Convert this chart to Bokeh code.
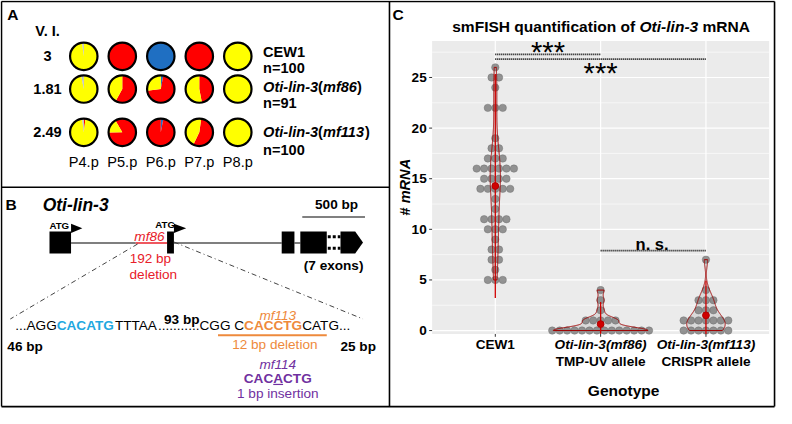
import numpy as np
from bokeh.plotting import figure
from bokeh.models import Range1d
from bokeh.core.properties import value
from bokeh.embed import file_html
from bokeh.resources import INLINE

# ---------------- data ----------------
# Panel A : vulval induction (V. I.) and VPC fate fractions
strains = ["CEW1", "Oti-lin-3(mf86)", "Oti-lin-3(mf113)"]
strain_n = ["n=100", "n=91", "n=100"]
vulval_induction = ["3", "1.81", "2.49"]
vpc_cells = ["P4.p", "P5.p", "P6.p", "P7.p", "P8.p"]
fate_colors = ["#1f6fc2", "#ff0000", "#ffff00", "#bfbfbf"]   # 1°, 2°, 3°, fused
# fraction of animals per fate [1°, 2°, 3°, fused] for each VPC
fates_cew1 = [[0, 0, 0.98, 0.02], [0, 1, 0, 0], [1, 0, 0, 0], [0, 1, 0, 0], [0, 0, 1, 0]]
fates_mf86 = [[0, 0, 0.97, 0.03], [0, 0.58, 0.42, 0], [0.03, 0.70, 0.27, 0], [0, 0.47, 0.53, 0], [0, 0, 1, 0]]
fates_mf113 = [[0, 0.02, 0.96, 0.02], [0, 0.83, 0.17, 0], [0.03, 0.97, 0, 0], [0, 0.55, 0.45, 0], [0, 0, 1, 0]]

# Panel C : smFISH mRNA counts per cell (value -> number of cells)
genotypes = ["CEW1", "Oti-lin-3(mf86)", "Oti-lin-3(mf113)"]
genotype_sub = ["", "TMP-UV allele", "CRISPR allele"]
cew1_mrna = [5, 6, 7, 8, 9, 10, 11, 12, 13, 14, 15, 16, 17, 18, 19, 22, 24, 25, 26]
cew1_cells = [3, 1, 2, 2, 1, 3, 4, 1, 1, 5, 4, 6, 3, 2, 1, 3, 1, 2, 1]
mf86_mrna = [0, 1, 2, 3, 4]
mf86_cells = [14, 5, 1, 1, 1]
mf113_mrna = [0, 1, 2, 3, 4, 7]
mf113_cells = [7, 7, 3, 3, 1, 1]
mrna_ticks = [0, 5, 10, 15, 20, 25]
mrna_minor = [2.5, 7.5, 12.5, 17.5, 22.5, 27.5]

# ---------------- canvas ----------------
W, H = 776, 408
RW, RH = 792.0, 424.0
SX, SY = W / RW, H / RH
FS = (SX + SY) / 2
FONT = "Liberation Sans"

p = figure(width=W, height=H, x_range=Range1d(0, RW), y_range=Range1d(RH, 0),
           x_axis_type=None, y_axis_type=None, output_backend="svg",
           toolbar_location=None, min_border=0)
p.outline_line_color = None
p.background_fill_color = "white"
p.border_fill_color = "white"

# panel C data coordinate system
C_X0, C_DX = 505.0, 107.5
C_Y0, C_DY = 343.0, 10.52
p.extra_x_ranges = {"cx": Range1d(1 - C_X0 / C_DX, 1 + (RW - C_X0) / C_DX)}
p.extra_y_ranges = {"cy": Range1d((C_Y0 - RH) / C_DY, C_Y0 / C_DY)}
CK = dict(x_range_name="cx", y_range_name="cy")


def cxv(px):
    return 1 + (px - C_X0) / C_DX


def cyv(py):
    return (C_Y0 - py) / C_DY


# ---------------- text metrics (Arial / Liberation Sans) ----------------
UP_R = [667, 667, 722, 722, 667, 611, 778, 722, 278, 500, 667, 556, 833, 722, 778, 667, 778, 722, 667, 611, 722, 667, 944, 667, 667, 611]
LO_R = [556, 556, 500, 556, 556, 278, 556, 556, 222, 222, 500, 222, 833, 556, 556, 556, 556, 333, 500, 278, 556, 500, 722, 500, 500, 500]
UP_B = [722, 722, 722, 722, 667, 611, 778, 722, 278, 556, 722, 611, 833, 722, 778, 667, 778, 722, 667, 611, 722, 667, 944, 667, 667, 611]
LO_B = [556, 611, 556, 611, 556, 333, 611, 611, 278, 278, 556, 278, 889, 611, 611, 611, 611, 389, 556, 333, 611, 556, 778, 556, 556, 500]


def _table(up, lo):
    t = {chr(65 + i): w for i, w in enumerate(up)}
    t.update({chr(97 + i): w for i, w in enumerate(lo)})
    t.update({d: 556 for d in "0123456789"})
    t.update({" ": 278, ".": 278, ",": 278, "-": 333, "(": 333, ")": 333, "*": 389, "#": 556, "=": 584})
    return t


TAB_R, TAB_B = _table(UP_R, LO_R), _table(UP_B, LO_B)


def tw(s, style, size):
    tab = TAB_B if "bold" in style else TAB_R
    return sum(tab.get(ch, 556) for ch in s) / 1000.0 * size * FS / SX


def txt(x, y, s, size, style="normal", color="black", align="left", angle=0.0, c=False):
    kw = CK if c else {}
    p.text(x=[x], y=[y], text=[s], angle=angle, text_font=value(FONT),
           text_font_size=f"{size * FS:.2f}px", text_font_style=style,
           text_color=color, text_align=align, text_baseline="middle", **kw)


def rich(x, y, parts, size, align="left", c=False):
    unit = C_DX if c else 1.0
    widths = [tw(s, st, size) / unit for s, st, col in parts]
    total = sum(widths)
    x0 = x - total / 2 if align == "center" else (x - total if align == "right" else x)
    for (s, st, col), w in zip(parts, widths):
        lead = len(s) - len(s.lstrip(" "))
        if s.strip():
            txt(x0 + tw(" " * lead, st, size) / unit, y, s.strip(), size, st, col, "left", c=c)
        x0 += w
    return total


# ---------------- borders ----------------
p.segment(x0=[1, 1, 1, 790, 397, 1], y0=[1, 422, 1, 1, 1, 194],
          x1=[790, 790, 1, 790, 397, 397], y1=[1, 422, 422, 422, 422, 194],
          line_color="black", line_width=1.6)

# ---------------- panel A ----------------
txt(7, 15, "A", 16, "bold")
txt(48, 32, "V. I.", 15, "bold", align="center")
pie_x = [85 + 39.3 * i for i in range(len(vpc_cells))]
pie_y = [58, 92, 137]
label_y = [(54, 70), (90, 107), (137, 155)]
R_PIE = 14.0
pie_rotation = {(2, 1): -30.0, (2, 3): 8.0}
for r, fates in enumerate([fates_cew1, fates_mf86, fates_mf113]):
    txt(48, pie_y[r], vulval_induction[r], 15, "bold", align="center")
    for ci, fr in enumerate(fates):
        x, y = pie_x[ci], pie_y[r]
        a = pie_rotation.get((r, ci), 0.0)
        for f, col in zip(fr, fate_colors):
            if f <= 0:
                continue
            if f >= 0.999:
                p.circle(x=[x], y=[y], radius=R_PIE, fill_color=col, line_color=None)
            else:
                a2 = a + 360 * f
                p.wedge(x=[x], y=[y], radius=R_PIE, start_angle=np.radians(90 - a2),
                        end_angle=np.radians(90 - a), direction="anticlock",
                        fill_color=col, line_color=None)
            a += 360 * f
        p.circle(x=[x], y=[y], radius=R_PIE, fill_color=None, line_color="black", line_width=2.2)
    name = strains[r]
    if "(" in name:
        g, allele = name[:-1].split("(")
        rich(268, label_y[r][0], [(g, "bold italic", "black"), ("(", "bold", "black"),
                                  (allele, "bold italic", "black"), (")", "bold", "black")], 15)
    else:
        txt(268, label_y[r][0], name, 15, "bold")
    txt(268, label_y[r][1], strain_n[r], 15, "bold")
for ci, cell in enumerate(vpc_cells):
    txt(pie_x[ci], 168, cell, 15, "normal", align="center")

# ---------------- panel B ----------------
RED, ORANGE, PURPLE, BLUE = "#e8202a", "#ee8a3c", "#7030a0", "#1fa8e0"
txt(5, 212, "B", 16, "bold")
txt(43, 213, "Oti-lin-3", 18, "bold italic")
p.segment(x0=[308], y0=[225], x1=[372], y1=[225], line_color="#808080", line_width=2)
txt(343, 212, "500 bp", 14, "bold", align="center")
INTRON_Y = 252
p.segment(x0=[72, 177, 300], y0=[INTRON_Y] * 3, x1=[138, 287, 306], y1=[INTRON_Y] * 3,
          line_color="black", line_width=1.1)
p.segment(x0=[138], y0=[INTRON_Y], x1=[170], y1=[INTRON_Y], line_color=RED, line_width=1.5)
p.quad(left=[50, 170, 287, 306], right=[72, 177, 300, 333], top=[240] * 4, bottom=[263] * 4,
       fill_color="black", line_color=None)
p.patch([347, 362, 370, 362, 347], [240, 240, 251.5, 263, 263], fill_color="black", line_color=None)
p.segment(x0=[334, 334], y0=[245.5, 257.5], x1=[347, 347], y1=[245.5, 257.5],
          line_color="black", line_width=3, line_dash="3 2")
p.patches([[72, 72, 83.5], [177, 177, 189.5]], [[232, 241.5, 236.8], [232, 241.5, 236.8]],
          fill_color="black", line_color=None)
txt(60, 234, "ATG", 10, "bold", align="center")
txt(168, 233, "ATG", 10, "bold", align="center")
txt(152, 245, "mf86", 14, "italic", RED, align="center")
txt(153, 268, "192 bp", 14, "normal", RED, align="center")
txt(156, 285, "deletion", 14, "normal", RED, align="center")
txt(340, 275, "(7 exons)", 14, "bold", align="center")
p.line([140, 10], [253, 331], line_color="#444444", line_width=1, line_dash="5 3 1 3")
p.line([177, 370], [251, 331], line_color="#444444", line_width=1, line_dash="5 3 1 3")
SEQ_Y = 338
seq_parts = [("...AGG", "normal", "black"), ("CACATG", "bold", BLUE), ("TTTAA", "normal", "black"),
             ("...........", "normal", "black"), ("CGG C", "normal", "black"),
             ("CACCTG", "bold", ORANGE), ("CATG...", "normal", "black")]
rich(15, SEQ_Y, seq_parts, 14)
txt(185, 331, "93 bp", 14, "bold", align="center")
txt(7, 360, "46 bp", 14, "bold")
txt(347, 360, "25 bp", 14, "bold")
txt(283, 327, "mf113", 14, "italic", ORANGE, align="center")
p.segment(x0=[222], y0=[348], x1=[333], y1=[348], line_color=ORANGE, line_width=2)
txt(280, 358, "12 bp deletion", 14, "normal", ORANGE, align="center")
txt(283, 378, "mf114", 14, "italic", PURPLE, align="center")
ins_w = rich(283, 393, [("CACACTG", "bold", PURPLE)], 14, align="center")
x_ins = 283 - ins_w / 2 + tw("CAC", "bold", 14)
p.segment(x0=[x_ins], y0=[399], x1=[x_ins + tw("A", "bold", 14)], y1=[399],
          line_color=PURPLE, line_width=1.2)
txt(283, 408, "1 bp insertion", 14, "normal", PURPLE, align="center")

# ---------------- panel C ----------------
txt(400, 15, "C", 16, "bold")
rich(613, 27, [("smFISH quantification of ", "bold", "black"), ("Oti-lin-3", "bold italic", "black"),
               (" mRNA", "bold", "black")], 16, align="center")
XLO, XHI = 0.4, 3.6
YLO, YHI = cyv(346.5), cyv(42)
p.quad(left=[XLO], right=[XHI], bottom=[YLO], top=[YHI], fill_color="#ebebeb", line_color=None, **CK)
p.segment(x0=[XLO] * len(mrna_minor), x1=[XHI] * len(mrna_minor), y0=mrna_minor, y1=mrna_minor,
          line_color="white", line_width=0.6, **CK)
p.segment(x0=[XLO] * len(mrna_ticks), x1=[XHI] * len(mrna_ticks), y0=mrna_ticks, y1=mrna_ticks,
          line_color="white", line_width=1.2, **CK)
cats = [1, 2, 3]
p.segment(x0=cats, x1=cats, y0=[YLO] * 3, y1=[YHI] * 3, line_color="white", line_width=1.2, **CK)
# ticks
tick_dx = 3.0 / C_DX
p.segment(x0=[XLO - tick_dx] * len(mrna_ticks), x1=[XLO] * len(mrna_ticks), y0=mrna_ticks, y1=mrna_ticks,
          line_color="#333333", line_width=1, **CK)
p.segment(x0=cats, x1=cats, y0=[YLO] * 3, y1=[YLO - 3.0 / C_DY] * 3, line_color="#333333", line_width=1, **CK)
for t in mrna_ticks:
    txt(cxv(435), t, str(t), 14, "bold", align="right", c=True)

# violins (gaussian KDE, bw.nrd0, trimmed, area scaled) + dots + mean ± 2 SD
groups = [(cew1_mrna, cew1_cells), (mf86_mrna, mf86_cells), (mf113_mrna, mf113_cells)]
samples = [np.repeat(np.array(v, float), c) for v, c in groups]


def nrd0(x):
    hi = np.std(x, ddof=1)
    q75, q25 = np.percentile(x, [75, 25])
    lo = min(hi, (q75 - q25) / 1.34)
    return 0.9 * lo * len(x) ** -0.2


grids, dens = [], []
for s in samples:
    g = np.linspace(s.min(), s.max(), 512)
    bw = nrd0(s)
    d = np.exp(-0.5 * ((g[:, None] - s[None, :]) / bw) ** 2).sum(1) / (len(s) * bw * np.sqrt(2 * np.pi))
    grids.append(g)
    dens.append(d)
dmax = max(d.max() for d in dens)
vx, vy = [], []
for k, (g, d) in enumerate(zip(grids, dens), start=1):
    hw = 0.45 * d / dmax
    vx.append(np.concatenate([k - hw, (k + hw)[::-1]]))
    vy.append(np.concatenate([g, g[::-1]]))
p.patches(vx, vy, fill_color="#d4d4d4", fill_alpha=0.8, line_color=None, **CK)

DOT_D = 7.6 / C_DX
dx, dy = [], []
for k, (vals, cnts) in enumerate(groups, start=1):
    for v, n in zip(vals, cnts):
        offs = (np.arange(n) - (n - 1) / 2.0) * DOT_D
        dx.extend(k + offs)
        dy.extend([v] * n)
p.circle(x=dx, y=dy, radius=DOT_D / 2, fill_color="#7a7a7a", fill_alpha=0.8,
         line_color="#6a6a6a", line_alpha=0.8, line_width=0.5, **CK)
p.patches(vx, vy, fill_color=None, line_color="#a00000", line_width=1.0, **CK)

means = [s.mean() for s in samples]
sds = [s.std(ddof=1) for s in samples]
p.segment(x0=cats, x1=cats, y0=[max(m - 2 * sd, YLO) for m, sd in zip(means, sds)],
          y1=[min(m + 2 * sd, YHI) for m, sd in zip(means, sds)], line_color="#d00000", line_width=1.3, **CK)
p.scatter(x=cats, y=means, size=7 * FS, fill_color="#d00000", line_color="#b00000", **CK)

# significance annotations
p.segment(x0=[1, 1, 2], x1=[2, 3, 3], y0=[cyv(56), cyv(61), cyv(260)], y1=[cyv(56), cyv(61), cyv(260)],
          line_color="black", line_width=1.7, line_dash="1 1", **CK)
txt(1.5, cyv(47 + 7), "***", 30, "normal", align="center", c=True)
txt(2.0, cyv(68 + 7), "***", 30, "normal", align="center", c=True)
txt(cxv(665), cyv(253), "n. s.", 17, "bold", align="center", c=True)

# axis labels
txt(1, cyv(357), genotypes[0], 14, "bold", align="center", c=True)
for k in (2, 3):
    txt(k, cyv(357), genotypes[k - 1], 14, "bold italic", align="center", c=True)
    txt(k, cyv(375), genotype_sub[k - 1], 14, "bold", align="center", c=True)
txt(636, 405, "Genotype", 16, "bold", align="center")
ylab_y0 = 194 + (tw("# ", "bold", 15) + tw("mRNA", "bold", 15)) / 2 * SX / SY
txt(413, ylab_y0, "#", 15, "bold", angle=np.pi / 2)
txt(413, ylab_y0 - tw("# ", "bold", 15) * SX / SY, "mRNA", 15, "bold italic", angle=np.pi / 2)

open("out.html", "w").write(file_html(p, INLINE))
